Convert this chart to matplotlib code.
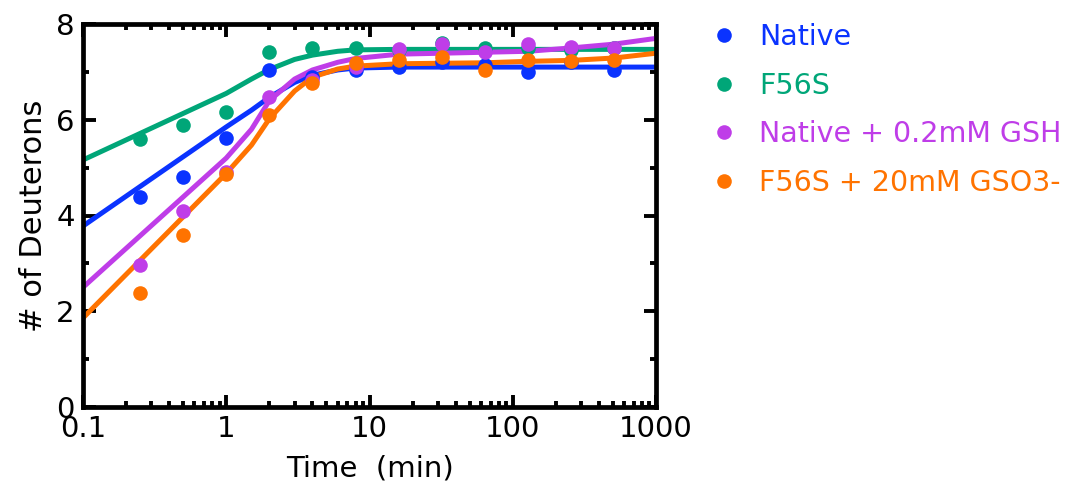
import matplotlib
matplotlib.use("Agg")
import matplotlib.pyplot as plt
from matplotlib.lines import Line2D
from matplotlib.ticker import LogLocator, FixedLocator, NullFormatter, FixedFormatter

plt.rcParams['font.family'] = ['DejaVu Sans']

# Sampled exchange times (min)
times = [0.25, 0.5, 1, 2, 4, 8, 16, 32, 64, 128, 256, 512]

# Measured deuterium uptake
native = [4.38, 4.8, 5.62, 7.04, 6.9, 7.04, 7.1, 7.2, 7.14, 7.0, 7.2, 7.04]
f56s = [5.6, 5.89, 6.16, 7.41, 7.5, 7.5, 7.45, 7.6, 7.5, 7.5, 7.45, 7.5]
native_gsh = [2.96, 4.09, 4.9, 6.47, 6.83, 7.1, 7.47, 7.58, 7.41, 7.58, 7.52, 7.49]
f56s_gso3 = [2.38, 3.59, 4.86, 6.1, 6.76, 7.18, 7.24, 7.31, 7.04, 7.24, 7.22, 7.24]

# Fitted uptake curves
fit_times = [0.1, 1, 1.5, 2, 3, 4, 6, 8, 16, 32, 64, 128, 256, 512, 1000]
fit_native = [3.78, 5.85, 6.2, 6.47, 6.78, 6.93, 7.04, 7.08, 7.1, 7.1, 7.1, 7.1, 7.1, 7.1, 7.1]
fit_f56s = [5.16, 6.55, 6.85, 7.05, 7.26, 7.35, 7.43, 7.46, 7.47, 7.47, 7.47, 7.47, 7.47, 7.47, 7.47]
fit_native_gsh = [2.5, 5.2, 5.8, 6.4, 6.85, 7.04, 7.2, 7.28, 7.37, 7.39, 7.41, 7.43, 7.5, 7.58, 7.7]
fit_f56s_gso3 = [1.86, 4.88, 5.47, 6.02, 6.6, 6.89, 7.06, 7.12, 7.17, 7.18, 7.19, 7.22, 7.24, 7.29, 7.39]

labels = ["Native", "F56S", "Native + 0.2mM GSH", "F56S + 20mM GSO3-"]
colors = ["#0A33FF", "#00A678", "#BF3DE8", "#FF7300"]

x_ticks = [0.1, 1, 10, 100, 1000]
x_tick_labels = ["0.1", "1", "10", "100", "1000"]
y_ticks = [0, 2, 4, 6, 8]

fig = plt.figure(figsize=(10.86, 4.96), dpi=100)
ax = fig.add_axes([83 / 1086, 1 - 407 / 496, (656 - 83) / 1086, (407 - 24) / 496])

points = [native, f56s, native_gsh, f56s_gso3]
fits = [fit_native, fit_f56s, fit_native_gsh, fit_f56s_gso3]

for i, (fit, col) in enumerate(zip(fits, colors)):
    ax.plot(fit_times, fit, color=col, lw=3.6, zorder=2 + i * 0.1, solid_capstyle='butt')
for i, (pts, col) in enumerate(zip(points, colors)):
    ax.plot(times, pts, 'o', color=col, ms=10.5, mew=0, zorder=3 + i * 0.1)

ax.set_xscale('log')
ax.set_xlim(0.1, 1000)
ax.set_ylim(0, 8)
ax.xaxis.set_major_locator(FixedLocator(x_ticks))
ax.xaxis.set_major_formatter(FixedFormatter(x_tick_labels))
ax.xaxis.set_minor_locator(LogLocator(base=10, subs=range(2, 10), numticks=20))
ax.xaxis.set_minor_formatter(NullFormatter())
ax.yaxis.set_major_locator(FixedLocator(y_ticks))
ax.yaxis.set_minor_locator(FixedLocator([1, 3, 5, 7]))

for s in ax.spines.values():
    s.set_linewidth(3.4)
ax.tick_params(which='both', direction='in', top=True, right=True, width=2.8)
ax.tick_params(which='major', length=9, labelsize=21)
ax.tick_params(which='minor', length=4.5)
ax.tick_params(axis='y', pad=6)
ax.tick_params(axis='x', pad=6)

ax.set_xlabel("Time  (min)", fontsize=21, labelpad=8)
ax.set_ylabel("# of Deuterons", fontsize=22, labelpad=6)

handles = [Line2D([], [], marker='o', ls='none', color=c, ms=10.5, mew=0) for c in colors]
leg = fig.legend(handles, labels, loc='upper left', bbox_to_anchor=(700 / 1086, 1 - 12 / 496),
                 frameon=False, fontsize=20.5, labelcolor=colors, handlelength=0.9,
                 handletextpad=0.78, labelspacing=0.72, borderaxespad=0)

fig.savefig("out.png", dpi=100)
